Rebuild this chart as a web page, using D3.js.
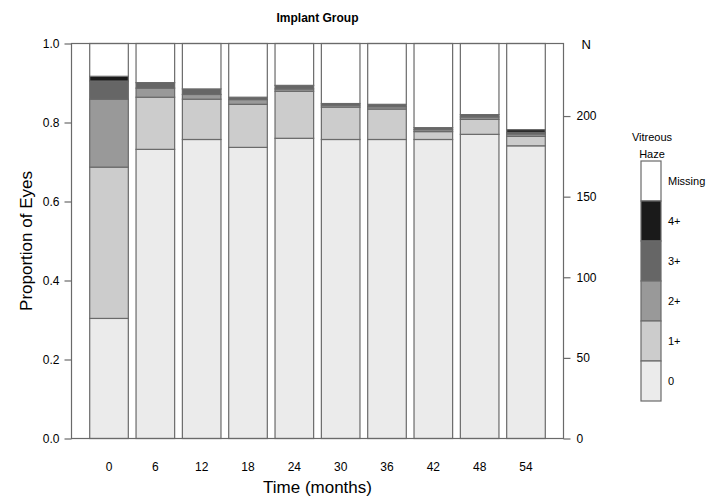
<!DOCTYPE html>
<html>
<head>
<meta charset="utf-8">
<script src="https://cdn.jsdelivr.net/npm/d3@7"></script>
<style>
  body { margin: 0; background: #fff; }
  svg text { font-family: "Liberation Sans", Arial, sans-serif; fill: #000; }
</style>
</head>
<body>
<div id="chart"></div>
<script>
// Time points (months)
var months = ["0", "6", "12", "18", "24", "30", "36", "42", "48", "54"];

// Proportion of eyes in each vitreous haze grade
var haze0   = [0.304, 0.732, 0.757, 0.737, 0.760, 0.757, 0.757, 0.757, 0.770, 0.741];
var haze1   = [0.383, 0.132, 0.102, 0.109, 0.119, 0.082, 0.077, 0.020, 0.038, 0.024];
var haze2   = [0.172, 0.023, 0.012, 0.012, 0.006, 0.005, 0.006, 0.005, 0.006, 0.006];
var haze3   = [0.046, 0.014, 0.014, 0.006, 0.009, 0.004, 0.006, 0.005, 0.006, 0.004];
var haze4   = [0.012, 0.000, 0.000, 0.000, 0.000, 0.000, 0.000, 0.000, 0.000, 0.007];
var missing = [0.083, 0.099, 0.115, 0.136, 0.106, 0.152, 0.154, 0.213, 0.180, 0.218];

var grades = ["0", "1+", "2+", "3+", "4+", "Missing"];
var grade_colors = ["#ebebeb", "#cccccc", "#999999", "#666666", "#1a1a1a", "#ffffff"];

var prop_ticks = [0, 0.2, 0.4, 0.6, 0.8, 1.0];
var n_ticks = [0, 50, 100, 150, 200];
var n_max = 245;

var create_chart = function() {
  var width = 707, height = 498;
  var box = { left: 71.5, right: 563.5, top: 43.5, bottom: 438.5 };
  var edge = "#6a6a6a";

  var rows = months.map(function(m, i) {
    return { month: m, "0": haze0[i], "1+": haze1[i], "2+": haze2[i],
             "3+": haze3[i], "4+": haze4[i], "Missing": missing[i] };
  });

  var svg = d3.select("#chart").append("svg")
      .attr("width", width)
      .attr("height", height);

  var x_scale = d3.scaleBand()
      .domain(months)
      .range([box.left, box.right])
      .paddingInner(0.2 / 1.2)
      .paddingOuter(0.393);

  var y_scale = d3.scaleLinear().domain([0, 1]).range([box.bottom, box.top]);
  var n_scale = d3.scaleLinear().domain([0, n_max]).range([box.bottom, box.top]);

  var color = d3.scaleOrdinal().domain(grades).range(grade_colors);

  var series = d3.stack().keys(grades)(rows);

  // Bars
  svg.append("g").selectAll("g")
      .data(series)
    .join("g")
      .attr("fill", function(d) { return color(d.key); })
    .selectAll("rect")
      .data(function(d) { return d; })
    .join("rect")
      .attr("x", function(d) { return x_scale(d.data.month); })
      .attr("y", function(d) { return y_scale(d[1]); })
      .attr("width", x_scale.bandwidth())
      .attr("height", function(d) { return y_scale(d[0]) - y_scale(d[1]); })
      .attr("stroke", edge)
      .attr("stroke-width", 1.2);

  // Frame
  svg.append("rect")
      .attr("x", box.left)
      .attr("y", box.top)
      .attr("width", box.right - box.left)
      .attr("height", box.bottom - box.top)
      .attr("fill", "none")
      .attr("stroke", edge)
      .attr("stroke-width", 1.2);

  // Left axis
  var left_axis = svg.append("g")
      .attr("transform", "translate(" + box.left + ",0)")
      .call(d3.axisLeft(y_scale).tickValues(prop_ticks)
        .tickFormat(d3.format(".1f")).tickSize(7).tickPadding(5));

  // Right axis
  var right_axis = svg.append("g")
      .attr("transform", "translate(" + box.right + ",0)")
      .call(d3.axisRight(n_scale).tickValues(n_ticks).tickSize(7).tickPadding(6));

  [left_axis, right_axis].forEach(function(ax) {
    ax.select(".domain").remove();
    ax.selectAll("line").attr("stroke", edge).attr("stroke-width", 1.2);
    ax.selectAll("text").attr("font-size", 12)
      .style("font-family", "'Liberation Sans', Arial, sans-serif");
  });

  // Bottom labels (no tick marks)
  var bottom_axis = svg.append("g")
      .attr("transform", "translate(0," + box.bottom + ")")
      .call(d3.axisBottom(x_scale).tickSize(0).tickPadding(24));
  bottom_axis.select(".domain").remove();
  bottom_axis.selectAll("text").attr("font-size", 12)
      .style("font-family", "'Liberation Sans', Arial, sans-serif");

  svg.append("text")
      .attr("x", box.right + 18)
      .attr("y", box.top + 5)
      .attr("font-size", 13)
      .text("N");

  // Titles
  svg.append("text")
      .attr("x", (box.left + box.right) / 2)
      .attr("y", 22)
      .attr("text-anchor", "middle")
      .attr("font-size", 12)
      .attr("font-weight", "bold")
      .text("Implant Group");

  svg.append("text")
      .attr("x", (box.left + box.right) / 2)
      .attr("y", 493)
      .attr("text-anchor", "middle")
      .attr("font-size", 17)
      .text("Time (months)");

  svg.append("text")
      .attr("transform", "translate(32," + (box.top + box.bottom) / 2 + ") rotate(-90)")
      .attr("text-anchor", "middle")
      .attr("font-size", 17)
      .text("Proportion of Eyes");

  // Legend
  var legend_x = 641, legend_top = 161, legend_h = 40, legend_w = 20;
  var legend = svg.append("g");

  legend.append("text")
      .attr("x", legend_x + legend_w / 2 + 1)
      .attr("y", 141)
      .attr("text-anchor", "middle")
      .attr("font-size", 11)
      .text("Vitreous");
  legend.append("text")
      .attr("x", legend_x + legend_w / 2 + 1)
      .attr("y", 158)
      .attr("text-anchor", "middle")
      .attr("font-size", 11)
      .text("Haze");

  var legend_order = grades.slice().reverse();
  legend.selectAll("rect")
      .data(legend_order)
    .join("rect")
      .attr("x", legend_x)
      .attr("y", function(d, i) { return legend_top + i * legend_h; })
      .attr("width", legend_w)
      .attr("height", legend_h)
      .attr("fill", function(d) { return color(d); })
      .attr("stroke", edge)
      .attr("stroke-width", 1.2);

  legend.selectAll("text.lab")
      .data(legend_order)
    .join("text")
      .attr("class", "lab")
      .attr("x", legend_x + legend_w + 7)
      .attr("y", function(d, i) { return legend_top + i * legend_h + legend_h / 2 + 4; })
      .attr("font-size", 11)
      .text(function(d) { return d; });
};

create_chart();
</script>
</body>
</html>
